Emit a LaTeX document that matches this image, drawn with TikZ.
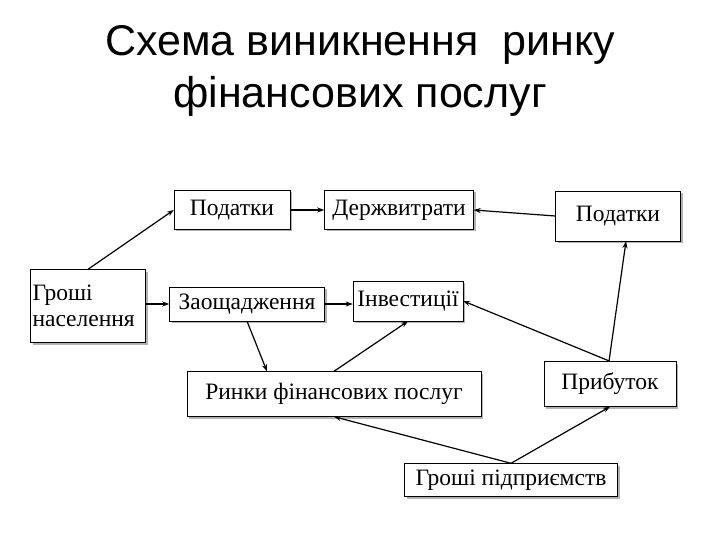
\documentclass[tikz,border=0pt]{standalone}
\usepackage{fontspec}
\setmainfont{Liberation Serif}
\newfontfamily\titlefont{Liberation Sans}
\usetikzlibrary{shadows,arrows.meta}
\begin{document}
\begin{tikzpicture}[x=1pt,y=-1pt,
  bx/.style={draw,fill=white,inner sep=1pt,font=\fontsize{23.5}{26}\selectfont,
    drop shadow={shadow xshift=2pt,shadow yshift=-2pt,fill=gray!60,opacity=1}},
  ar/.style={-{Stealth[length=7pt,width=5pt]},line width=1.2pt}]
\useasboundingbox (0,0) rectangle (720,540);
\node[font=\titlefont\fontsize{43}{52}\selectfont,align=center] (t) at (360,71) {Схема виникнення\ \ ринку\\фінансових послуг};
\node[bx,minimum width=116pt,minimum height=39pt] (p1) at (232,210) {Податки};
\node[bx,minimum width=149pt,minimum height=39pt] (d) at (399,210) {Держвитрати};
\node[bx,minimum width=125pt,minimum height=50pt] (p2) at (618,216) {Податки};
\node[bx,minimum width=115pt,minimum height=73pt,align=left,text width=111pt] (g) at (88,306) {Гроші\\населення};
\node[bx,minimum width=155pt,minimum height=34pt] (z) at (247,304) {Заощадження};
\node[bx,minimum width=110pt,minimum height=40pt] (i) at (408,301) {Інвестиції};
\node[bx,minimum width=294pt,minimum height=45pt] (r) at (334,394) {Ринки фінансових послуг};
\node[bx,minimum width=132pt,minimum height=45pt] (pr) at (610,384) {Прибуток};
\node[bx,minimum width=213pt,minimum height=33pt] (gp) at (511,480) {Гроші підприємств};
\draw[ar] (g.north) -- (p1.west);
\draw[ar] (g.east |- z.west) -- (z.west);
\draw[ar] (p1) -- (d);
\draw[ar] (p2.west) -- (d.east);
\draw[ar] (z.east) -- (z.east -| i.west);
\draw[ar] (z.south) -- ([xshift=20pt]r.north west -| z.south);
\draw[ar] (r.north) -- (i.south);
\draw[ar] (pr.north) -- (i.east);
\draw[ar] ([xshift=-1pt]pr.north) -- ([xshift=8pt]p2.south);
\draw[ar] (gp.north) -- (r.south);
\draw[ar] (gp.north) -- (pr.south);
\end{tikzpicture}
\end{document}
